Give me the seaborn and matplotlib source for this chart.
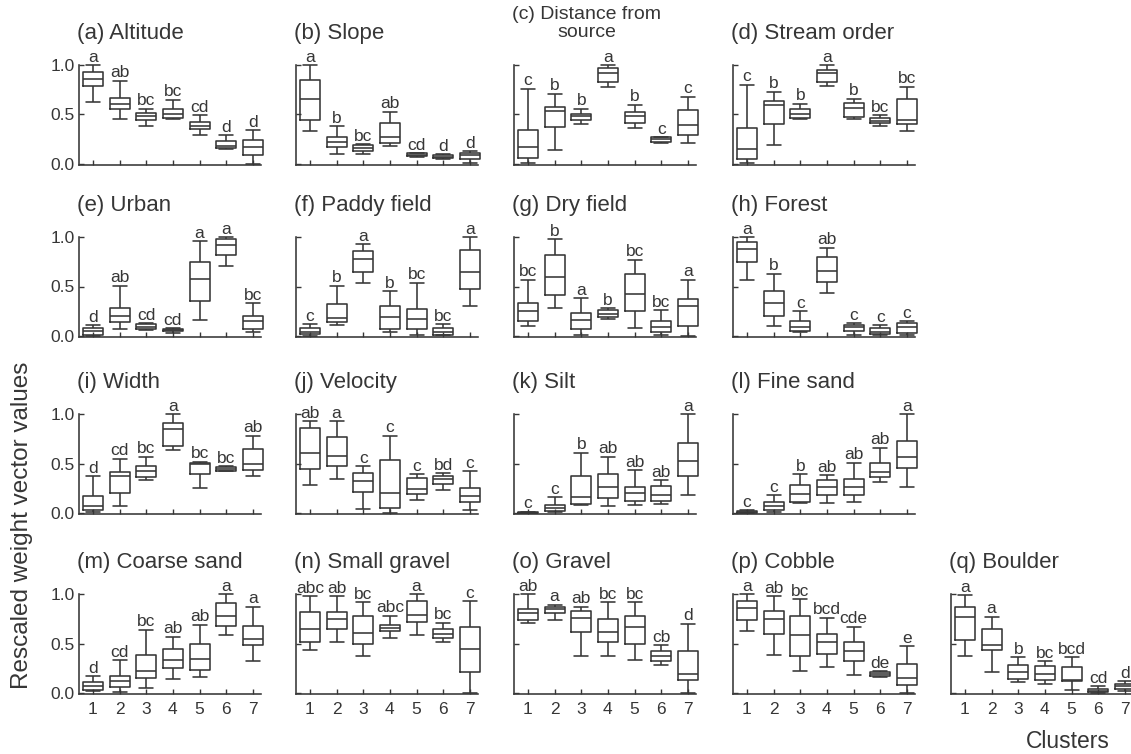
import numpy as np
import pandas as pd
import matplotlib
matplotlib.use("Agg")
import matplotlib.pyplot as plt
import seaborn as sns

# ---------------- data ----------------
CLUSTERS = ["1", "2", "3", "4", "5", "6", "7"]
Y_TICKS = [0.0, 0.5, 1.0]
Y_TICK_LABELS = ["0.0", "0.5", "1.0"]

# each row: [lower whisker, Q1, median, Q3, upper whisker] for clusters 1..7
ALTITUDE = [[0.63, 0.79, 0.86, 0.93, 1.00], [0.45, 0.56, 0.61, 0.67, 0.84], [0.38, 0.44, 0.48, 0.52, 0.56],
            [0.45, 0.46, 0.51, 0.56, 0.65], [0.29, 0.35, 0.38, 0.42, 0.49], [0.15, 0.16, 0.18, 0.23, 0.29],
            [0.00, 0.09, 0.17, 0.24, 0.34]]
ALTITUDE_LETTERS = ["a", "ab", "bc", "bc", "cd", "d", "d"]

SLOPE = [[0.33, 0.44, 0.66, 0.85, 1.00], [0.10, 0.17, 0.22, 0.27, 0.38], [0.10, 0.13, 0.16, 0.19, 0.20],
         [0.18, 0.21, 0.27, 0.41, 0.53], [0.07, 0.08, 0.09, 0.11, 0.11], [0.05, 0.06, 0.07, 0.09, 0.10],
         [0.01, 0.05, 0.09, 0.11, 0.13]]
SLOPE_LETTERS = ["a", "b", "bc", "ab", "cd", "d", "d"]

DISTANCE = [[0.01, 0.06, 0.17, 0.34, 0.76], [0.14, 0.37, 0.54, 0.58, 0.71], [0.40, 0.44, 0.48, 0.51, 0.56],
            [0.78, 0.83, 0.92, 0.97, 1.00], [0.36, 0.41, 0.48, 0.53, 0.60], [0.21, 0.22, 0.25, 0.27, 0.27],
            [0.21, 0.29, 0.39, 0.55, 0.68]]
DISTANCE_LETTERS = ["c", "b", "b", "a", "b", "c", "c"]

STREAM = [[0.01, 0.05, 0.15, 0.36, 0.80], [0.19, 0.40, 0.60, 0.64, 0.73], [0.45, 0.46, 0.51, 0.56, 0.61],
          [0.79, 0.83, 0.92, 0.95, 1.00], [0.45, 0.47, 0.57, 0.62, 0.66], [0.38, 0.41, 0.43, 0.46, 0.49],
          [0.33, 0.40, 0.44, 0.66, 0.78]]
STREAM_LETTERS = ["c", "b", "b", "a", "b", "bc", "bc"]

URBAN = [[0.00, 0.01, 0.05, 0.08, 0.11], [0.07, 0.14, 0.20, 0.28, 0.51], [0.06, 0.07, 0.09, 0.12, 0.13],
         [0.03, 0.05, 0.06, 0.07, 0.08], [0.16, 0.35, 0.58, 0.75, 0.96], [0.71, 0.82, 0.92, 0.98, 1.00],
         [0.04, 0.07, 0.15, 0.20, 0.33]]
URBAN_LETTERS = ["d", "ab", "cd", "cd", "a", "a", "bc"]

PADDY = [[0.00, 0.02, 0.04, 0.08, 0.12], [0.11, 0.14, 0.18, 0.32, 0.51], [0.54, 0.65, 0.78, 0.86, 0.93],
         [0.04, 0.07, 0.19, 0.30, 0.45], [0.01, 0.07, 0.17, 0.27, 0.54], [0.01, 0.01, 0.04, 0.08, 0.12],
         [0.30, 0.47, 0.65, 0.87, 1.00]]
PADDY_LETTERS = ["c", "b", "a", "b", "bc", "bc", "a"]

DRY = [[0.10, 0.15, 0.25, 0.33, 0.57], [0.28, 0.41, 0.60, 0.82, 0.98], [0.01, 0.07, 0.16, 0.23, 0.38],
       [0.17, 0.19, 0.22, 0.26, 0.28], [0.08, 0.25, 0.42, 0.63, 0.77], [0.01, 0.04, 0.09, 0.15, 0.26],
       [0.00, 0.10, 0.30, 0.37, 0.57]]
DRY_LETTERS = ["bc", "b", "a", "b", "bc", "bc", "a"]

FOREST = [[0.57, 0.75, 0.88, 0.95, 1.00], [0.10, 0.20, 0.33, 0.45, 0.63], [0.04, 0.05, 0.09, 0.15, 0.25],
          [0.43, 0.55, 0.66, 0.80, 0.89], [0.01, 0.05, 0.09, 0.11, 0.13], [0.01, 0.02, 0.04, 0.08, 0.11],
          [0.01, 0.03, 0.09, 0.13, 0.15]]
FOREST_LETTERS = ["a", "b", "c", "ab", "c", "c", "c"]

WIDTH = [[0.01, 0.03, 0.07, 0.17, 0.37], [0.07, 0.20, 0.37, 0.41, 0.55], [0.33, 0.36, 0.42, 0.47, 0.57],
         [0.64, 0.68, 0.85, 0.91, 1.00], [0.25, 0.39, 0.49, 0.51, 0.52], [0.42, 0.42, 0.44, 0.46, 0.47],
         [0.37, 0.43, 0.50, 0.65, 0.78]]
WIDTH_LETTERS = ["d", "cd", "bc", "a", "bc", "bc", "ab"]

VELOCITY = [[0.28, 0.44, 0.61, 0.86, 0.93], [0.34, 0.47, 0.58, 0.77, 0.93], [0.04, 0.21, 0.32, 0.40, 0.47],
            [0.00, 0.05, 0.20, 0.54, 0.78], [0.13, 0.19, 0.24, 0.35, 0.39], [0.23, 0.29, 0.34, 0.37, 0.40],
            [0.03, 0.11, 0.17, 0.25, 0.42]]
VELOCITY_LETTERS = ["ab", "a", "c", "c", "c", "bd", "c"]

SILT = [[0.00, 0.00, 0.005, 0.01, 0.015], [0.01, 0.02, 0.05, 0.08, 0.16], [0.08, 0.09, 0.16, 0.37, 0.61],
        [0.07, 0.15, 0.26, 0.39, 0.57], [0.08, 0.12, 0.20, 0.26, 0.43], [0.09, 0.12, 0.18, 0.27, 0.33],
        [0.18, 0.37, 0.53, 0.71, 1.00]]
SILT_LETTERS = ["c", "c", "b", "ab", "ab", "ab", "a"]

FINE_SAND = [[0.00, 0.005, 0.01, 0.02, 0.03], [0.01, 0.03, 0.07, 0.11, 0.18], [0.10, 0.11, 0.19, 0.28, 0.39],
             [0.10, 0.18, 0.26, 0.33, 0.38], [0.11, 0.18, 0.26, 0.34, 0.51], [0.31, 0.36, 0.41, 0.51, 0.66],
             [0.26, 0.45, 0.57, 0.73, 1.00]]
FINE_SAND_LETTERS = ["c", "c", "b", "ab", "ab", "ab", "a"]

COARSE_SAND = [[0.02, 0.03, 0.07, 0.11, 0.17], [0.01, 0.06, 0.12, 0.17, 0.33], [0.05, 0.15, 0.22, 0.38, 0.64],
               [0.14, 0.25, 0.33, 0.44, 0.57], [0.16, 0.23, 0.34, 0.50, 0.69], [0.59, 0.68, 0.78, 0.91, 1.00],
               [0.32, 0.48, 0.55, 0.68, 0.87]]
COARSE_SAND_LETTERS = ["d", "cd", "bc", "ab", "ab", "a", "a"]

SMALL_GRAVEL = [[0.43, 0.52, 0.65, 0.82, 0.98], [0.52, 0.65, 0.75, 0.82, 0.98], [0.37, 0.50, 0.61, 0.78, 0.92],
                [0.56, 0.63, 0.66, 0.69, 0.78], [0.59, 0.72, 0.79, 0.93, 1.00], [0.52, 0.56, 0.60, 0.65, 0.71],
                [0.00, 0.21, 0.44, 0.67, 0.93]]
SMALL_GRAVEL_LETTERS = ["abc", "ab", "bc", "abc", "a", "bc", "c"]

GRAVEL = [[0.71, 0.74, 0.81, 0.85, 1.00], [0.74, 0.81, 0.85, 0.87, 0.89], [0.37, 0.62, 0.76, 0.83, 0.87],
          [0.37, 0.52, 0.62, 0.75, 0.92], [0.33, 0.49, 0.67, 0.78, 0.92], [0.28, 0.32, 0.37, 0.42, 0.48],
          [0.00, 0.13, 0.19, 0.42, 0.70]]
GRAVEL_LETTERS = ["ab", "a", "ab", "bc", "bc", "cb", "d"]

COBBLE = [[0.63, 0.74, 0.86, 0.93, 1.00], [0.38, 0.60, 0.75, 0.83, 0.98], [0.22, 0.37, 0.59, 0.78, 0.95],
          [0.26, 0.39, 0.52, 0.60, 0.76], [0.18, 0.32, 0.42, 0.52, 0.67], [0.16, 0.17, 0.19, 0.21, 0.22],
          [0.00, 0.08, 0.15, 0.29, 0.47]]
COBBLE_LETTERS = ["a", "ab", "bc", "bcd", "cde", "de", "e"]

BOULDER = [[0.37, 0.54, 0.77, 0.87, 0.99], [0.21, 0.43, 0.48, 0.65, 0.77], [0.11, 0.14, 0.21, 0.28, 0.36],
           [0.09, 0.13, 0.19, 0.27, 0.32], [0.03, 0.12, 0.13, 0.26, 0.36], [0.00, 0.01, 0.02, 0.04, 0.07],
           [0.02, 0.04, 0.07, 0.09, 0.12]]
BOULDER_LETTERS = ["a", "a", "b", "bc", "bcd", "cd", "d"]

TITLES = ["(a) Altitude", "(b) Slope", "(c) Distance from\nsource", "(d) Stream order",
          "(e) Urban", "(f) Paddy field", "(g) Dry field", "(h) Forest",
          "(i) Width", "(j) Velocity", "(k) Silt", "(l) Fine sand",
          "(m) Coarse sand", "(n) Small gravel", "(o) Gravel", "(p) Cobble", "(q) Boulder"]

PANEL_DATA = [ALTITUDE, SLOPE, DISTANCE, STREAM, URBAN, PADDY, DRY, FOREST,
              WIDTH, VELOCITY, SILT, FINE_SAND, COARSE_SAND, SMALL_GRAVEL, GRAVEL, COBBLE, BOULDER]
PANEL_LETTERS = [ALTITUDE_LETTERS, SLOPE_LETTERS, DISTANCE_LETTERS, STREAM_LETTERS,
                 URBAN_LETTERS, PADDY_LETTERS, DRY_LETTERS, FOREST_LETTERS,
                 WIDTH_LETTERS, VELOCITY_LETTERS, SILT_LETTERS, FINE_SAND_LETTERS,
                 COARSE_SAND_LETTERS, SMALL_GRAVEL_LETTERS, GRAVEL_LETTERS, COBBLE_LETTERS, BOULDER_LETTERS]

# ---------------- style ----------------
sns.set_style("ticks")
plt.rcParams["font.family"] = ["Liberation Sans", "DejaVu Sans"]
LINE = "#363636"
TEXT = "#363636"

W, H = 1131, 754
fig = plt.figure(figsize=(W / 100, H / 100), dpi=100)

COL_LEFT = [79, 296, 514, 733, 951]      # px
ROW_ZERO = [164, 336, 513, 693]          # px (y of value 0 from top)
UNIT = 99                                # px per 1.0
AX_W = 182
Y0, Y1 = -0.01, 1.02
X0, X1 = -0.52, 6.3

for k, (title, data, letters) in enumerate(zip(TITLES, PANEL_DATA, PANEL_LETTERS)):
    if k < 16:
        r, c = divmod(k, 4)
    else:
        r, c = 3, 4
    left = COL_LEFT[c] / W
    bottom = 1 - (ROW_ZERO[r] - Y0 * UNIT) / H
    ax = fig.add_axes([left, bottom, AX_W / W, (Y1 - Y0) * UNIT / H])

    df = pd.DataFrame({"cluster": np.repeat(CLUSTERS, 5), "value": np.ravel(data)})
    sns.boxplot(data=df, x="cluster", y="value", order=CLUSTERS, ax=ax,
                whis=(0, 100), width=0.75, fill=False, color=LINE, linewidth=1.15,
                showfliers=False, capwidths=0.52)
    for art in list(ax.lines) + list(ax.patches):
        art.set_clip_on(False)

    stats = df.groupby("cluster", sort=False)["value"].max()
    for i, cl in enumerate(CLUSTERS):
        ax.annotate(letters[i], xy=(i, stats[cl]), xytext=(0, 0.3), textcoords="offset points",
                    ha="center", va="bottom", fontsize=12.5, color=TEXT)

    ax.set_xlim(X0, X1)
    ax.set_ylim(Y0, Y1)
    ax.set_xlabel("")
    ax.set_ylabel("")
    for s in ("top", "right"):
        ax.spines[s].set_visible(False)
    for s in ("left", "bottom"):
        ax.spines[s].set_color(LINE)
        ax.spines[s].set_linewidth(1.15)
    ax.spines["left"].set_bounds(Y0, 1.0)
    ax.set_yticks(Y_TICKS)
    ax.set_xticks(range(len(CLUSTERS)))
    ax.tick_params(direction="in", length=3.5, width=1.0, colors=LINE, labelcolor=TEXT, labelsize=12.5)
    ax.tick_params(axis="y", pad=3)
    ax.tick_params(axis="x", pad=6)
    if c == 0:
        ax.set_yticklabels(Y_TICK_LABELS)
    else:
        ax.set_yticklabels([])
    if r == 3:
        ax.set_xticklabels(CLUSTERS)
    else:
        ax.set_xticklabels([])

    two_lines = "\n" in title
    ax.annotate(title, xy=(0, (1.0 - Y0) / (Y1 - Y0)),
                xycoords="axes fraction", xytext=(-1.5, 30 if two_lines else 23),
                textcoords="offset points",
                ha="left", va="center", multialignment="center", linespacing=1.12,
                fontsize=14 if two_lines else 16, color=TEXT)

fig.text(22 / W, 1 - 525 / H, "Rescaled weight vector values", rotation=90,
         ha="center", va="center", fontsize=17.5, color=TEXT)
fig.text(1068 / W, 1 - 741 / H, "Clusters", ha="center", va="center", fontsize=16.5, color=TEXT)

fig.savefig("out.png", dpi=100, facecolor="white")
